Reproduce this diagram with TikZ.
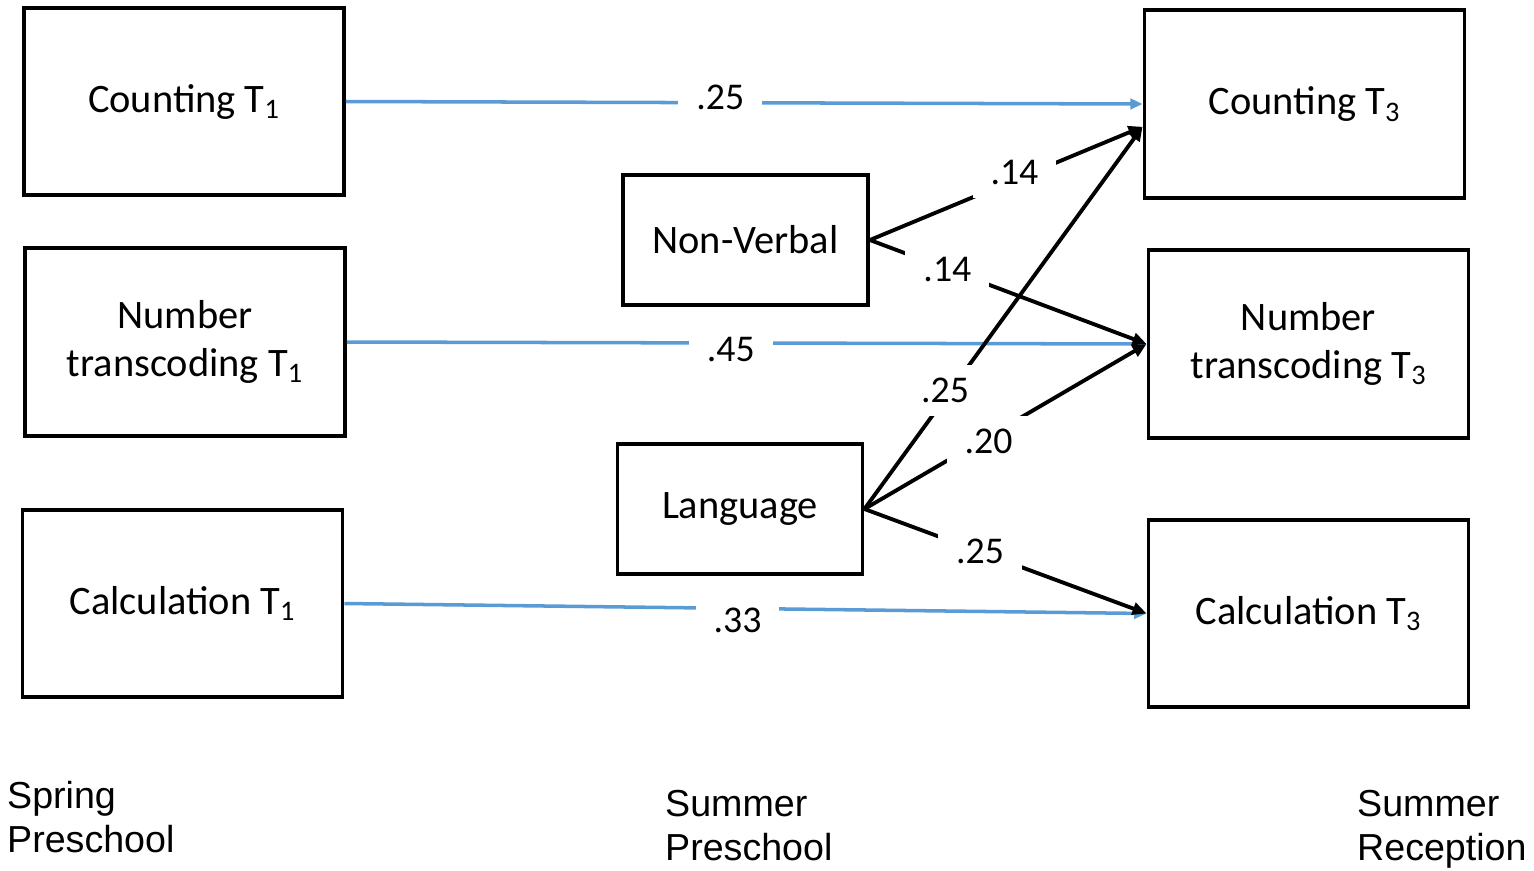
\documentclass[tikz,border=0pt]{standalone}
\usepackage{fontspec}
\setmainfont{Carlito}
\newfontfamily\arialfont{Liberation Sans}
\usetikzlibrary{arrows.meta}
\usetikzlibrary{calc}

\begin{document}
\begin{tikzpicture}[
        box/.style = {rectangle, draw = black, line width = 2.2pt,
            align = center, font = \fontsize{23}{27}\selectfont},
        big/.style = {minimum width = 6.4cm, minimum height = 3.75cm},
        small/.style = {minimum width = 4.9cm, minimum height = 2.6cm},
        blueline/.style = {line width = 2pt, draw = {rgb,255:red,91;green,155;blue,213},
            -{Triangle[length=7pt,width=6pt]}},
        blackline/.style = {line width = 2.2pt, draw = black,
            -{Triangle[length=8pt,width=7pt]}},
        lbl/.style = {fill = white, inner xsep = 0.36cm, inner ysep = 0.26cm,
            font = \fontsize{21.5}{23}\selectfont},
        when/.style = {anchor = north west, align = left,
            font = \arialfont\fontsize{21.4}{25}\selectfont}
    ]

        \useasboundingbox (0,0) rectangle (30.68,-17.4);

        % first wave
        \node[box, big] (cnt1) at (3.68,-2.03) {Counting T\textsubscript{1}};
        \node[box, big] (num1) at (3.70,-6.84) {Number\\transcoding T\textsubscript{1}};
        \node[box, big] (calc1) at (3.65,-12.07) {Calculation T\textsubscript{1}};

        % middle
        \node[box, small] (nonv) at (14.91,-4.80) {Non-Verbal};
        \node[box, small] (lang) at (14.80,-10.18) {Language};

        % third wave
        \node[box, big] (cnt3) at (26.09,-2.08) {Counting T\textsubscript{3}};
        \node[box, big] (num3) at (26.17,-6.88) {Number\\transcoding T\textsubscript{3}};
        \node[box, big] (calc3) at (26.17,-12.27) {Calculation T\textsubscript{3}};

        % autoregressive paths
        \draw[blueline] (cnt1.east) -- node[lbl, pos=0.47, yshift=0.1cm] {.25} (cnt3.west);
        \draw[blueline] (num1.east) -- node[lbl, pos=0.48, yshift=-0.14cm] {.45} (num3.west);
        \draw[blueline] (calc1.east) -- node[lbl, pos=0.49, yshift=-0.24cm] {.33} (calc3.west);

        % predictors
        \draw[blackline] (nonv.east) -- node[lbl, pos=0.53, yshift=0.14cm] {.14} (cnt3.188);
        \draw[blackline] (nonv.east) -- node[lbl, pos=0.28] {.14} (num3.west);
        \draw[blackline] (lang.east) -- node[lbl, pos=0.29, yshift=0.16cm] {.25} (cnt3.188);
        \draw[blackline] (lang.east) -- node[lbl, pos=0.44, yshift=-0.1cm] {.20} (num3.west);
        \draw[blackline] (lang.east) -- node[lbl, pos=0.41] {.25} (calc3.west);

        % time points
        \node[when] (t1) at (0.02,-15.5) {Spring\\Preschool};
        \node[when] (t2) at (13.18,-15.68) {Summer\\Preschool};
        \node[when] (t3) at (27.02,-15.68) {Summer\\Reception};

\end{tikzpicture}
\end{document}
